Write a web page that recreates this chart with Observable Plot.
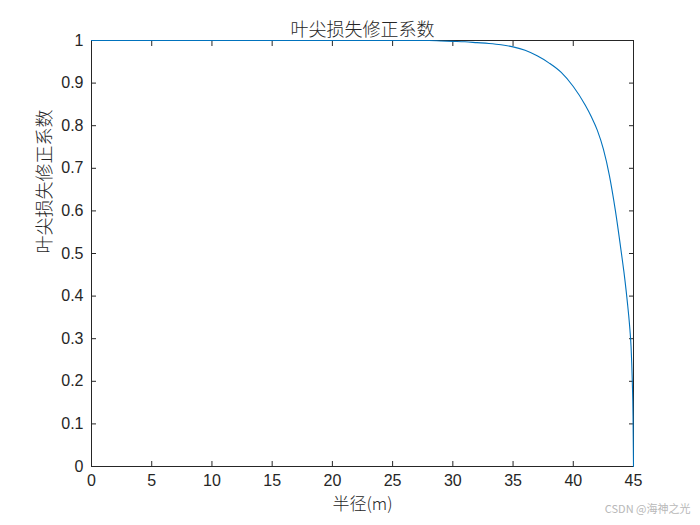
<!DOCTYPE html>
<html>
<head>
<meta charset="utf-8">
<script src="https://cdn.jsdelivr.net/npm/d3@7"></script>
<script src="https://cdn.jsdelivr.net/npm/@observablehq/plot@0.6"></script>
<style>
  html, body { margin: 0; padding: 0; background: #fff; }
</style>
</head>
<body>
<div id="chart"></div>
<script>
// Radius (m) and tip-loss correction factor
const radius = [0, 5, 10, 15, 20, 25, 28, 29, 30, 31, 32, 33, 34, 35, 36, 37, 38, 39, 40, 41, 41.5, 42, 42.5, 43, 43.5, 44, 44.2, 44.4, 44.5, 44.6, 44.7, 44.8, 44.9, 44.96, 45];
const factor = [1, 1, 1, 1, 1, 1, 1, 0.999, 0.998, 0.997, 0.995, 0.993, 0.990, 0.985, 0.977, 0.964, 0.947, 0.925, 0.892, 0.848, 0.821, 0.789, 0.745, 0.683, 0.600, 0.500, 0.458, 0.410, 0.383, 0.355, 0.322, 0.280, 0.200, 0.120, 0];
const xTicks = [0, 5, 10, 15, 20, 25, 30, 35, 40, 45];
const yTicks = [0, 0.1, 0.2, 0.3, 0.4, 0.5, 0.6, 0.7, 0.8, 0.9, 1];
const yTickLabels = ["0", "0.1", "0.2", "0.3", "0.4", "0.5", "0.6", "0.7", "0.8", "0.9", "1"];
const titleText = "叶尖损失修正系数";
const xLabel = "半径(m)";
const yLabel = "叶尖损失修正系数";
const watermark = "CSDN @海神之光";

const data = radius.map((r, i) => ({r, f: factor[i]}));
const ink = "#262626";
const cjk = "'Noto Sans CJK SC', 'Liberation Sans', sans-serif";

const chart = Plot.plot({
  width: 700,
  height: 525,
  marginLeft: 91,
  marginRight: 67,
  marginTop: 40,
  marginBottom: 59,
  style: {fontFamily: "'Liberation Sans', Arial, sans-serif", fontSize: "16px", color: ink, background: "#fff"},
  x: {domain: [0, 45]},
  y: {domain: [0, 1]},
  marks: [
    Plot.axisX({anchor: "bottom", ticks: xTicks, tickSize: -5, tickPadding: 13, label: null, stroke: ink, fill: ink}),
    Plot.axisX({anchor: "top", ticks: xTicks, tickSize: -5, tickFormat: () => "", label: null, stroke: ink}),
    Plot.axisY({anchor: "left", ticks: yTicks, tickSize: -5, tickPadding: 13, tickFormat: (d) => yTickLabels[yTicks.indexOf(Math.round(d * 10) / 10)], label: null, stroke: ink, fill: ink}),
    Plot.axisY({anchor: "right", ticks: yTicks, tickSize: -5, tickFormat: () => "", label: null, stroke: ink}),
    Plot.frame({stroke: ink, strokeWidth: 1}),
    Plot.line(data, {x: "r", y: "f", stroke: "#0072BD", strokeWidth: 1.1, curve: "monotone-x"}),
    Plot.text([titleText], {text: d => d, frameAnchor: "top", dy: -17, fontFamily: cjk, fontSize: 18, fontWeight: 300, fill: ink}),
    Plot.text([xLabel], {text: d => d, frameAnchor: "bottom", dy: 43, fontFamily: cjk, fontSize: 17, fontWeight: 300, fill: ink}),
    Plot.text([yLabel], {text: d => d, frameAnchor: "left", dx: -46, rotate: -90, fontFamily: cjk, fontSize: 18, fontWeight: 300, fill: ink}),
    Plot.text([watermark], {text: d => d, frameAnchor: "bottom-right", dx: 57, dy: 46, textAnchor: "end", fontFamily: cjk, fontSize: 11, fill: "#b8b8b8"})
  ]
});
document.getElementById("chart").appendChild(chart);
</script>
</body>
</html>
